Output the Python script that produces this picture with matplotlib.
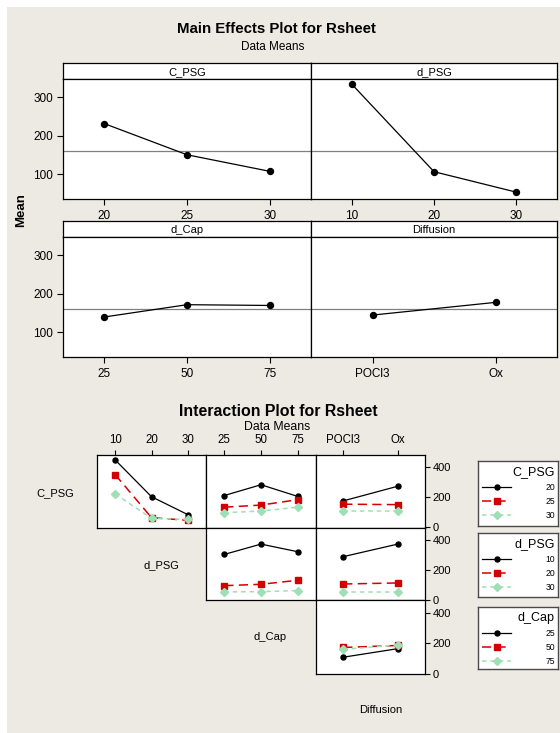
import matplotlib
matplotlib.use('Agg')
import matplotlib.pyplot as plt
from matplotlib.patches import Rectangle

plt.rcParams['font.family'] = ['Liberation Sans', 'DejaVu Sans']

W, H = 560, 733

# ---------------- data ----------------
c_psg_levels = ['20', '25', '30']
d_psg_levels = ['10', '20', '30']
d_cap_levels = ['25', '50', '75']
diffusion_levels = ['POCl3', 'Ox']

main_c_psg = [232, 151, 108]
main_d_psg = [334, 107, 54]
main_d_cap = [140, 172, 170]
main_diffusion = [145, 178]
grand_mean = 160
main_yticks = [100, 200, 300]

# interaction means: one row per level of the trace factor
inter_cpsg_dpsg = [[449, 203, 83], [351, 63, 45], [222, 58, 51]]
inter_cpsg_dcap = [[211, 283, 205], [133, 147, 183], [96, 107, 133]]
inter_cpsg_diff = [[175, 273], [153, 150], [108, 108]]
inter_dpsg_dcap = [[302, 371, 320], [93, 102, 129], [51, 53, 60]]
inter_dpsg_diff = [[287, 371], [104, 111], [53, 53]]
inter_dcap_diff = [[107, 163], [171, 184], [158, 188]]
inter_yticks = [0, 200, 400]

BG = '#ede9e3'
RED = '#d20000'
GREEN = '#9fdfb6'

fig = plt.figure(figsize=(W / 100, H / 100), dpi=100)
fig.patch.set_facecolor('white')
fig.patches.append(Rectangle((7 / W, 0), 1, 1 - 7 / H, transform=fig.transFigure,
                             facecolor=BG, edgecolor='none', zorder=-10))


def add_ax(l, t, r, b):
    return fig.add_axes([l / W, 1 - b / H, (r - l) / W, (b - t) / H])


def ftext(x, y, s, **kw):
    fig.text(x / W, 1 - y / H, s, **kw)


def frame(ax, lw=0.9, color='black'):
    for sp in ax.spines.values():
        sp.set_linewidth(lw)
        sp.set_color(color)


# ---------------- main effects ----------------
ftext(276, 33, 'Main Effects Plot for Rsheet', ha='center', va='baseline',
      fontsize=10.8, fontweight='bold')
ftext(273, 50, 'Data Means', ha='center', va='baseline', fontsize=8.5)
ftext(21, 210, 'Mean', rotation=90, ha='center', va='center', fontsize=9.5, fontweight='bold')

main_specs = [
    ('C_PSG', c_psg_levels, main_c_psg, 63, 311, 63, 79, 199, True),
    ('d_PSG', d_psg_levels, main_d_psg, 311, 557, 63, 79, 199, False),
    ('d_Cap', d_cap_levels, main_d_cap, 63, 311, 221, 237, 357, True),
    ('Diffusion', diffusion_levels, main_diffusion, 311, 557, 221, 237, 357, False),
]
for name, levels, vals, l, r, t, s, b, show_y in main_specs:
    strip = add_ax(l, t, r, s)
    strip.set_facecolor('white')
    strip.set_xticks([])
    strip.set_yticks([])
    strip.text(0.5, 0.45, name, ha='center', va='center', fontsize=8,
               transform=strip.transAxes)
    frame(strip)
    ax = add_ax(l, s, r, b)
    ax.set_facecolor('white')
    x = list(range(len(levels)))
    ax.axhline(grand_mean, color='#808080', lw=0.9, zorder=1)
    ax.plot(x, vals, color='black', lw=0.9, marker='o', ms=4.3, zorder=3)
    ax.set_xlim(-0.5, len(levels) - 0.5)
    ax.set_ylim(36, 348)
    ax.set_xticks(x)
    ax.set_xticklabels(levels, fontsize=8.5)
    ax.tick_params(axis='x', direction='out', length=4, width=0.8, pad=4)
    if show_y:
        ax.set_yticks(main_yticks)
        ax.tick_params(axis='y', direction='out', length=4, width=0.8, pad=3, labelsize=8.5)
    else:
        ax.set_yticks([])
    frame(ax)

# ---------------- interaction ----------------
ftext(278, 416.5, 'Interaction Plot for Rsheet', ha='center', va='baseline',
      fontsize=11.4, fontweight='bold')
ftext(277, 430.5, 'Data Means', ha='center', va='baseline', fontsize=8.8)

colx = [97, 206, 316, 425]
rowy = [455, 527.5, 600, 674]
styles = [
    dict(color='black', ls='-', marker='o', ms=3.6, lw=0.9),
    dict(color=RED, ls=(0, (6, 3.5)), marker='s', ms=4.2, lw=1.1),
    dict(color=GREEN, ls=(0, (3, 2.5)), marker='D', ms=4.2, lw=1.1),
]
panels = [
    (0, 0, d_psg_levels, inter_cpsg_dpsg),
    (0, 1, d_cap_levels, inter_cpsg_dcap),
    (0, 2, diffusion_levels, inter_cpsg_diff),
    (1, 1, d_cap_levels, inter_dpsg_dcap),
    (1, 2, diffusion_levels, inter_dpsg_diff),
    (2, 2, diffusion_levels, inter_dcap_diff),
]
for row, col, levels, data in panels:
    ax = add_ax(colx[col], rowy[row], colx[col + 1], rowy[row + 1])
    ax.set_facecolor('white')
    x = list(range(len(levels)))
    for i in range(len(data)):
        ax.plot(x, data[i], zorder=3 + i, **styles[i])
    ax.set_xlim(-0.5, len(levels) - 0.5)
    ax.set_ylim(-3, 482)
    if row == 0:
        ax.xaxis.tick_top()
        ax.set_xticks(x)
        ax.set_xticklabels(levels, fontsize=8.3)
        ax.tick_params(axis='x', direction='out', length=3.5, width=0.8, pad=3)
    else:
        ax.set_xticks([])
    if col == 2:
        ax.yaxis.tick_right()
        ax.set_yticks(inter_yticks)
        ax.tick_params(axis='y', direction='out', length=3.5, width=0.8, pad=2, labelsize=8)
    else:
        ax.set_yticks([])
    frame(ax)

ftext(55, 493, 'C_PSG', ha='center', va='center', fontsize=8)
ftext(161, 565, 'd_PSG', ha='center', va='center', fontsize=8)
ftext(270, 637, 'd_Cap', ha='center', va='center', fontsize=8)
ftext(381, 710, 'Diffusion', ha='center', va='center', fontsize=8)

legend_specs = [
    ('C_PSG', c_psg_levels, 461, 526),
    ('d_PSG', d_psg_levels, 533, 597),
    ('d_Cap', d_cap_levels, 607, 669),
]
for title, levels, top, bot in legend_specs:
    lax = add_ax(478, top, 558, bot)
    lax.set_facecolor('white')
    lax.set_xlim(478, 558)
    lax.set_ylim(bot, top)
    lax.set_xticks([])
    lax.set_yticks([])
    frame(lax, lw=1.0, color='#4a4a4a')
    lax.text(555, top + 11, title, ha='right', va='center', fontsize=9)
    for i, lev in enumerate(levels):
        y = top + 26 + 14 * i
        st = dict(styles[i])
        marker = st.pop('marker')
        ms = st.pop('ms')
        lax.plot([482, 511], [y, y], **st)
        lax.plot([497], [y], marker=marker, ms=ms, color=st['color'], ls='none')
        lax.text(555, y, lev, ha='right', va='center', fontsize=6.2)

fig.savefig('out.png', dpi=100, facecolor=fig.get_facecolor())
